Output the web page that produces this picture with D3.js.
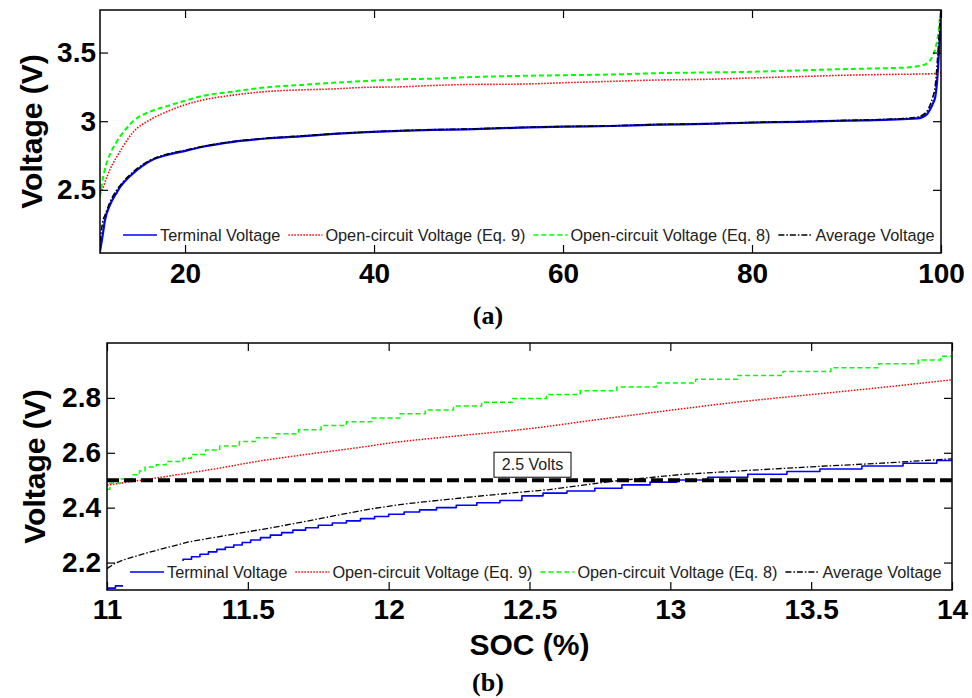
<!DOCTYPE html>
<html>
<head>
<meta charset="utf-8">
<script src="https://cdn.jsdelivr.net/npm/d3@7"></script>
<style>
  html, body { margin: 0; padding: 0; background: #fff; }
  svg { display: block; }
</style>
</head>
<body>
<svg id="fig" width="972" height="698"></svg>
<script>
// ---------- Panel (a): full discharge range, SOC 11–100 % ----------
const socA = [11, 11.35, 11.5, 12.06, 12.77, 13.12, 13.47, 14.5, 16.3, 18.1, 19.8, 21.6, 25.1, 28.6, 32.2, 35.7, 39.2, 42.7, 46.2, 49.8, 55.4, 60, 65, 70, 75, 80, 85, 90, 94, 96, 97.5, 98.5, 98.8, 99.15, 99.4, 99.6, 99.7, 99.9, 100];
const terminalA = [2.05, 2.20, 2.27, 2.39, 2.48, 2.52, 2.55, 2.62, 2.71, 2.755, 2.78, 2.81, 2.85, 2.874, 2.89, 2.907, 2.92, 2.93, 2.937, 2.941, 2.953, 2.96, 2.965, 2.975, 2.98, 2.99, 2.995, 3.004, 3.01, 3.015, 3.02, 3.05, 3.08, 3.13, 3.18, 3.30, 3.40, 3.64, 3.78];
const ocvEq9A = [2.48, 2.52, 2.55, 2.65, 2.74, 2.78, 2.82, 2.92, 3.01, 3.07, 3.115, 3.15, 3.19, 3.216, 3.228, 3.235, 3.247, 3.25, 3.26, 3.267, 3.27, 3.28, 3.29, 3.30, 3.305, 3.315, 3.325, 3.335, 3.34, 3.342, 3.343, 3.345, 3.345, 3.346, 3.347, 3.348, 3.349, 3.35, 3.35];
const ocvEq8A = [2.45, 2.60, 2.645, 2.76, 2.85, 2.89, 2.92, 3.00, 3.07, 3.11, 3.145, 3.18, 3.216, 3.247, 3.264, 3.28, 3.293, 3.305, 3.31, 3.32, 3.33, 3.335, 3.34, 3.35, 3.355, 3.36, 3.37, 3.38, 3.386, 3.39, 3.40, 3.42, 3.44, 3.48, 3.53, 3.59, 3.63, 3.76, 3.81];
const averageA = [2.12, 2.285, 2.31, 2.41, 2.50, 2.53, 2.56, 2.63, 2.715, 2.76, 2.785, 2.812, 2.852, 2.876, 2.892, 2.908, 2.921, 2.931, 2.938, 2.943, 2.954, 2.961, 2.966, 2.976, 2.981, 2.991, 2.997, 3.006, 3.013, 3.02, 3.03, 3.07, 3.11, 3.18, 3.26, 3.42, 3.52, 3.72, 3.81];
const xTicksA = [20, 40, 60, 80, 100];
const xTickLabelsA = ["20", "40", "60", "80", "100"];
const yTicksA = [2.5, 3, 3.5];
const yTickLabelsA = ["2.5", "3", "3.5"];

// ---------- Panel (b): low-SOC detail, SOC 11–14 % ----------
const socTerminalB = [11.000, 11.030, 11.060, 11.090, 11.120, 11.150, 11.180, 11.210, 11.240, 11.270, 11.300, 11.330, 11.360, 11.390, 11.420, 11.450, 11.480, 11.510, 11.545, 11.580, 11.620, 11.660, 11.705, 11.750, 11.800, 11.850, 11.900, 11.950, 12.000, 12.055, 12.110, 12.170, 12.240, 12.313, 12.395, 12.473, 12.548, 12.633, 12.732, 12.828, 12.928, 13.023, 13.133, 13.275, 13.414, 13.531, 13.680, 13.826, 13.946, 14.000];
const terminalB = [2.107, 2.115, 2.126, 2.138, 2.150, 2.162, 2.175, 2.188, 2.200, 2.212, 2.221, 2.230, 2.239, 2.248, 2.256, 2.264, 2.273, 2.282, 2.291, 2.300, 2.309, 2.318, 2.327, 2.336, 2.344, 2.352, 2.360, 2.368, 2.376, 2.384, 2.392, 2.400, 2.409, 2.418, 2.426, 2.443, 2.453, 2.461, 2.471, 2.483, 2.493, 2.501, 2.511, 2.522, 2.532, 2.541, 2.552, 2.562, 2.572, 2.572];
const socOcvEq9B = [11.0, 11.1, 11.2, 11.3, 11.4, 11.5, 11.7, 11.9, 12.0, 12.25, 12.5, 12.75, 13.0, 13.25, 13.5, 13.75, 14.0];
const ocvEq9B = [2.482, 2.497, 2.512, 2.528, 2.544, 2.563, 2.593, 2.620, 2.635, 2.662, 2.688, 2.722, 2.755, 2.786, 2.812, 2.838, 2.866];
const socOcvEq8B = [11.000, 11.010, 11.050, 11.090, 11.115, 11.135, 11.175, 11.210, 11.270, 11.300, 11.350, 11.400, 11.470, 11.530, 11.600, 11.680, 11.760, 11.850, 11.940, 12.040, 12.130, 12.230, 12.330, 12.440, 12.560, 12.680, 12.810, 12.950, 13.090, 13.240, 13.400, 13.570, 13.740, 13.880, 13.960, 14.000];
const ocvEq8B = [2.467, 2.489, 2.504, 2.520, 2.534, 2.548, 2.556, 2.568, 2.580, 2.594, 2.610, 2.625, 2.641, 2.655, 2.669, 2.684, 2.699, 2.713, 2.727, 2.742, 2.756, 2.770, 2.784, 2.798, 2.812, 2.826, 2.840, 2.854, 2.868, 2.882, 2.896, 2.910, 2.924, 2.938, 2.952, 2.952];
const socAverageB = [11.0, 11.03, 11.06, 11.11, 11.17, 11.23, 11.29, 11.35, 11.47, 11.58, 11.70, 11.82, 11.94, 12.06, 12.18, 12.35, 12.57, 12.81, 13.04, 13.28, 13.52, 13.75, 14.0];
const averageB = [2.178, 2.198, 2.210, 2.226, 2.243, 2.259, 2.275, 2.286, 2.307, 2.326, 2.349, 2.373, 2.396, 2.414, 2.427, 2.445, 2.466, 2.498, 2.521, 2.536, 2.550, 2.562, 2.578];
const xTicksB = [11, 11.5, 12, 12.5, 13, 13.5, 14];
const xTickLabelsB = ["11", "11.5", "12", "12.5", "13", "13.5", "14"];
const yTicksB = [2.2, 2.4, 2.6, 2.8];
const yTickLabelsB = ["2.2", "2.4", "2.6", "2.8"];
const cutoffVoltage = 2.5;

const seriesNames = ["Terminal Voltage", "Open-circuit Voltage (Eq. 9)", "Open-circuit Voltage (Eq. 8)", "Average Voltage"];

// ---------- drawing ----------
const SANS = '"Liberation Sans", Arial, Helvetica, sans-serif';
const SERIF = '"Liberation Serif", "Times New Roman", serif';
const svg = d3.select("#fig");

const look = [
  { color: "#0000ff", dash: null },
  { color: "#ff0000", dash: "1.5,1.5" },
  { color: "#00ff00", dash: "5,3" },
  { color: "#000000", dash: "6,2,1.5,2" }
];

function drawPanel(p) {
  const g = svg.append("g");
  const [x0, x1] = p.x.range();
  const [yBot, yTop] = p.y.range();

  svg.append("clipPath").attr("id", p.id)
    .append("rect").attr("x", x0).attr("y", yTop).attr("width", x1 - x0).attr("height", yBot - yTop);

  const plot = g.append("g").attr("clip-path", `url(#${p.id})`);
  p.series.forEach((s, i) => {
    const line = d3.line().x(d => p.x(d[0])).y(d => p.y(d[1])).curve(s.curve);
    plot.append("path")
      .datum(d3.zip(s.soc, s.v))
      .attr("d", line)
      .attr("fill", "none")
      .attr("stroke", look[i].color)
      .attr("stroke-width", s.width)
      .attr("stroke-dasharray", look[i].dash)
      .attr("stroke-linejoin", "round");
  });

  if (p.extra) p.extra(g, plot);

  // legend (white panel along the bottom of the axes)
  const lg = g.append("g");
  lg.append("rect")
    .attr("x", p.legend.left).attr("y", p.legend.top)
    .attr("width", x1 - p.legend.left).attr("height", yBot - p.legend.top)
    .attr("fill", "#fff");
  let tx = p.legend.start;
  seriesNames.forEach((name, i) => {
    lg.append("line")
      .attr("x1", tx - 37).attr("x2", tx - 3)
      .attr("y1", p.legend.y).attr("y2", p.legend.y)
      .attr("stroke", look[i].color)
      .attr("stroke-width", 1.5)
      .attr("stroke-dasharray", look[i].dash);
    const t = lg.append("text")
      .attr("x", tx).attr("y", p.legend.y)
      .attr("dominant-baseline", "central")
      .attr("font-family", SANS).attr("font-size", 16.3).attr("fill", "#222")
      .text(name);
    tx += t.node().getComputedTextLength() + 45;
  });

  // axes with inward ticks on all four sides
  const styleAxis = a => {
    a.select(".domain").remove();
    a.attr("font-family", SANS).attr("font-size", 28).attr("font-weight", "bold");
    a.selectAll("line").attr("stroke", "#000").attr("stroke-width", 1.2);
    a.selectAll("text").attr("fill", "#000");
  };
  g.append("g").attr("transform", `translate(0,${yBot})`)
    .call(d3.axisBottom(p.x).tickValues(p.xTicks).tickFormat((d, i) => p.xLabels[i]).tickSize(-8).tickPadding(p.xPad))
    .call(styleAxis);
  g.append("g").attr("transform", `translate(0,${yTop})`)
    .call(d3.axisTop(p.x).tickValues(p.xTicks).tickFormat("").tickSize(-8))
    .call(styleAxis);
  g.append("g").attr("transform", `translate(${x0},0)`)
    .call(d3.axisLeft(p.y).tickValues(p.yTicks).tickFormat((d, i) => p.yLabels[i]).tickSize(-8).tickPadding(p.yPad))
    .call(styleAxis);
  g.append("g").attr("transform", `translate(${x1},0)`)
    .call(d3.axisRight(p.y).tickValues(p.yTicks).tickFormat("").tickSize(-8))
    .call(styleAxis);

  g.append("rect")
    .attr("x", x0).attr("y", yTop).attr("width", x1 - x0).attr("height", yBot - yTop)
    .attr("fill", "none").attr("stroke", "#000").attr("stroke-width", 1.5);

  g.append("text")
    .attr("transform", `translate(${p.titleX},${(yTop + yBot) / 2}) rotate(-90)`)
    .attr("text-anchor", "middle").attr("dominant-baseline", "central")
    .attr("font-family", SANS).attr("font-size", 30).attr("font-weight", "bold")
    .text("Voltage (V)");

  g.append("text")
    .attr("x", 488).attr("y", p.tagY)
    .attr("text-anchor", "middle").attr("dominant-baseline", "central")
    .attr("font-family", SERIF).attr("font-size", 26).attr("font-weight", "bold")
    .text(p.tag);
  return g;
}

// Panel (a)
const xA = d3.scaleLinear().domain([11, 100]).range([100, 941]);
const yA = d3.scaleLinear().domain([2.04, 3.81]).range([253, 10]);
drawPanel({
  id: "clipA", x: xA, y: yA,
  xTicks: xTicksA, xLabels: xTickLabelsA, yTicks: yTicksA, yLabels: yTickLabelsA,
  xPad: 10, yPad: 4, titleX: 31, tag: "(a)", tagY: 315,
  legend: { left: 110, top: 218, y: 235, start: 160 },
  series: [
    { soc: socA, v: terminalA, width: 2.2, curve: d3.curveMonotoneX },
    { soc: socA, v: ocvEq9A, width: 1.6, curve: d3.curveMonotoneX },
    { soc: socA, v: ocvEq8A, width: 2.0, curve: d3.curveMonotoneX },
    { soc: socA, v: averageA, width: 1.6, curve: d3.curveMonotoneX }
  ]
});

// Panel (b)
const xB = d3.scaleLinear().domain([11, 14]).range([107, 952]);
const yB = d3.scaleLinear().domain([2.1, 3.0]).range([590, 343]);
const gB = drawPanel({
  id: "clipB", x: xB, y: yB,
  xTicks: xTicksB, xLabels: xTickLabelsB, yTicks: yTicksB, yLabels: yTickLabelsB,
  xPad: 9, yPad: 6, titleX: 34, tag: "(b)", tagY: 682,
  legend: { left: 123, top: 561, y: 572, start: 167 },
  series: [
    { soc: socTerminalB, v: terminalB, width: 1.6, curve: d3.curveStepAfter },
    { soc: socOcvEq9B, v: ocvEq9B, width: 1.5, curve: d3.curveMonotoneX },
    { soc: socOcvEq8B, v: ocvEq8B, width: 1.5, curve: d3.curveStepAfter },
    { soc: socAverageB, v: averageB, width: 1.3, curve: d3.curveLinear }
  ],
  extra: (g, plot) => {
    const yc = yB(cutoffVoltage);
    plot.append("line")
      .attr("x1", xB.range()[0]).attr("x2", xB.range()[1])
      .attr("y1", yc).attr("y2", yc)
      .attr("stroke", "#000").attr("stroke-width", 4)
      .attr("stroke-dasharray", "12,5");
    const bw = 77, bh = 25, bx = 494, by = yc - 3 - bh;
    g.append("rect").attr("x", bx).attr("y", by).attr("width", bw).attr("height", bh)
      .attr("fill", "#fff").attr("stroke", "#000").attr("stroke-width", 1);
    g.append("text").attr("x", bx + bw / 2).attr("y", by + bh / 2)
      .attr("text-anchor", "middle").attr("dominant-baseline", "central")
      .attr("font-family", SANS).attr("font-size", 16).attr("fill", "#222")
      .text(`${cutoffVoltage} Volts`);
  }
});

// x-axis title under panel (b)
gB.append("text")
  .attr("x", 529.5).attr("y", 644)
  .attr("text-anchor", "middle").attr("dominant-baseline", "central")
  .attr("font-family", SANS).attr("font-size", 30).attr("font-weight", "bold")
  .text("SOC (%)");
</script>
</body>
</html>
